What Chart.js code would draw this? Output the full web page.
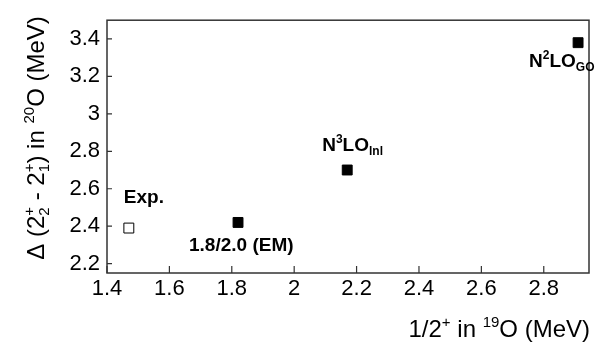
<!DOCTYPE html>
<html>
<head>
<meta charset="utf-8">
<style>
body { margin: 0; background: #fff; }
#wrap { width: 616px; height: 347px; }
</style>
<script src="https://cdn.jsdelivr.net/npm/chart.js"></script>
</head>
<body>
<div id="wrap"><canvas id="chart" width="616" height="347"></canvas></div>
<script>
// data
const names = ['Exp.', '1.8/2.0 (EM)', 'N3LO_lnl', 'N2LO_GO'];
const xValues = [1.47, 1.82, 2.17, 2.91];
const yValues = [2.39, 2.42, 2.70, 3.38];
const xTicks = [1.4, 1.6, 1.8, 2.0, 2.2, 2.4, 2.6, 2.8];
const yTicks = [2.2, 2.4, 2.6, 2.8, 3.0, 3.2, 3.4];

// label text parts (sup / sub) and pixel offsets from the marker
const labelParts = [
  [{ t: 'Exp.' }],
  [{ t: '1.8/2.0 (EM)' }],
  [{ t: 'N' }, { sup: '3' }, { t: 'LO' }, { sub: 'lnl' }],
  [{ t: 'N' }, { sup: '2' }, { t: 'LO' }, { sub: 'GO' }]
];
const labelOffsets = [[-5, -25], [-49, 29], [-25, -19], [-49, 24]];

const FAMILY = '"Liberation Sans", Arial, Helvetica, sans-serif';
const font = (s, b) => (b ? 'bold ' : '') + s + 'px ' + FAMILY;

function richWidth(ctx, parts, size, bold) {
  let w = 0;
  parts.forEach(p => {
    if (p.t !== undefined) {
      ctx.font = font(size, bold);
      w += ctx.measureText(p.t).width;
    } else {
      ctx.font = font(Math.round(size * 0.62), bold);
      w += Math.max(ctx.measureText(p.sup || '').width, ctx.measureText(p.sub || '').width);
    }
  });
  return w;
}

function drawRich(ctx, parts, x, y, size, bold) {
  ctx.textAlign = 'left';
  ctx.textBaseline = 'alphabetic';
  let cx = x;
  parts.forEach(p => {
    if (p.t !== undefined) {
      ctx.font = font(size, bold);
      ctx.fillText(p.t, cx, y);
      cx += ctx.measureText(p.t).width;
    } else {
      ctx.font = font(Math.round(size * 0.62), bold);
      let w = 0;
      if (p.sup) { ctx.fillText(p.sup, cx, y - size * 0.42); w = ctx.measureText(p.sup).width; }
      if (p.sub) { ctx.fillText(p.sub, cx, y + size * 0.22); w = Math.max(w, ctx.measureText(p.sub).width); }
      cx += w;
    }
  });
}

const decor = {
  id: 'decor',
  afterDraw(chart) {
    const ctx = chart.ctx;
    const a = chart.chartArea;
    const xs = chart.scales.x, ys = chart.scales.y;
    ctx.save();
    // frame
    ctx.strokeStyle = '#333';
    ctx.lineWidth = 1.5;
    ctx.strokeRect(a.left, a.top, a.right - a.left, a.bottom - a.top);
    // inward ticks
    ctx.lineWidth = 1.2;
    ctx.beginPath();
    xTicks.forEach(v => {
      const px = xs.getPixelForValue(v);
      ctx.moveTo(px, a.bottom);
      ctx.lineTo(px, a.bottom - 7);
    });
    yTicks.forEach(v => {
      const py = ys.getPixelForValue(v);
      ctx.moveTo(a.left, py);
      ctx.lineTo(a.left + 5, py);
    });
    ctx.stroke();

    ctx.fillStyle = '#000';
    // point labels
    const meta = chart.getDatasetMeta(0);
    meta.data.forEach((pt, i) => {
      drawRich(ctx, labelParts[i], pt.x + labelOffsets[i][0], pt.y + labelOffsets[i][1], 19, true);
    });

    // x title
    const xt = [{ t: '1/2' }, { sup: '+' }, { t: ' in ' }, { sup: '19' }, { t: 'O (MeV)' }];
    const xw = richWidth(ctx, xt, 24, false);
    drawRich(ctx, xt, 590 - xw, 337, 24, false);

    // y title
    const yt = [{ t: '\u0394 (2' }, { sup: '+', sub: '2' }, { t: ' - 2' }, { sup: '+', sub: '1' },
      { t: ') in ' }, { sup: '20' }, { t: 'O (MeV)' }];
    const yw = richWidth(ctx, yt, 24, false);
    ctx.translate(44, 138);
    ctx.rotate(-Math.PI / 2);
    drawRich(ctx, yt, -yw / 2, 0, 24, false);
    ctx.restore();
  }
};

new Chart(document.getElementById('chart'), {
  type: 'scatter',
  data: {
    datasets: [{
      data: xValues.map((x, i) => ({ x: x, y: yValues[i] })),
      pointStyle: 'rect',
      pointRadius: 7,
      pointHoverRadius: 7,
      backgroundColor: ['#fff', '#000', '#000', '#000'],
      borderColor: '#000',
      borderWidth: 1
    }]
  },
  options: {
    responsive: false,
    animation: false,
    layout: { padding: { left: 0, top: 20, right: 27, bottom: 0 } },
    plugins: { legend: { display: false }, tooltip: { enabled: false } },
    scales: {
      x: {
        type: 'linear',
        min: 1.4,
        max: 2.945,
        grid: { display: false, drawTicks: false },
        border: { display: false },
        afterBuildTicks: s => { s.ticks = xTicks.map(v => ({ value: v })); },
        afterFit: s => { s.height = 74; },
        ticks: {
          padding: 3,
          color: '#000',
          font: { family: FAMILY, size: 22 },
          maxRotation: 0,
          autoSkip: false,
          callback: v => String(v)
        }
      },
      y: {
        min: 2.15,
        max: 3.5,
        grid: { display: false, drawTicks: false },
        border: { display: false },
        afterBuildTicks: s => { s.ticks = yTicks.map(v => ({ value: v })); },
        afterFit: s => { s.width = 107; },
        ticks: {
          padding: 7,
          color: '#000',
          font: { family: FAMILY, size: 22 },
          autoSkip: false,
          callback: v => String(v)
        }
      }
    }
  },
  plugins: [decor]
});
</script>
</body>
</html>
